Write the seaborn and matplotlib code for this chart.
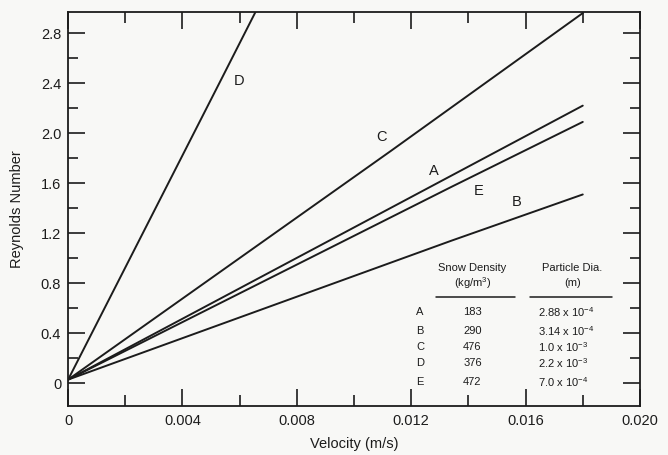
import numpy as np
import pandas as pd
import matplotlib
matplotlib.use("Agg")
import matplotlib.pyplot as plt
from matplotlib.ticker import MultipleLocator, FixedLocator
import seaborn as sns

# curve data (velocity m/s, Reynolds number)
vel_A = [0.0, 0.0134, 0.018]
re_A = [0.03, 1.66, 2.22]
vel_B = [0.0, 0.0134, 0.018]
re_B = [0.03, 1.14, 1.51]
vel_C = [0.0, 0.0113, 0.018]
re_C = [0.03, 1.86, 2.96]
vel_D = [0.0, 0.0054, 0.0068]
re_D = [0.03, 2.45, 3.08]
vel_E = [0.0, 0.0134, 0.018]
re_E = [0.03, 1.57, 2.09]

curve_names = ["A", "B", "C", "D", "E"]
label_x = [0.0128, 0.01567, 0.01096, 0.00597, 0.01435]
label_y = [1.70, 1.45, 1.97, 2.42, 1.54]

snow_density = ["183", "290", "476", "376", "472"]
particle_dia = ["2.88 x 10$^{-4}$", "3.14 x 10$^{-4}$", "1.0 x 10$^{-3}$",
                "2.2 x 10$^{-3}$", "7.0 x 10$^{-4}$"]

rows = []
for name, vv, rr in zip(curve_names, [vel_A, vel_B, vel_C, vel_D, vel_E],
                        [re_A, re_B, re_C, re_D, re_E]):
    for v, r in zip(vv, rr):
        rows.append({"curve": name, "velocity": v, "re": r})
df = pd.DataFrame(rows)

sns.set_theme(style="ticks")
plt.rcParams["font.family"] = ["Liberation Sans", "DejaVu Sans"]
plt.rcParams["mathtext.fontset"] = "custom"
plt.rcParams["mathtext.rm"] = "Liberation Sans"
plt.rcParams["mathtext.it"] = "Liberation Sans"
plt.rcParams["mathtext.bf"] = "Liberation Sans"

ink = "#1c1c1c"
bg = "#f8f8f6"

fig = plt.figure(figsize=(6.68, 4.55), dpi=100, facecolor=bg)
ax = fig.add_axes([0.102, 0.108, 0.856, 0.866], facecolor=bg)

sns.lineplot(data=df, x="velocity", y="re", hue="curve", units="curve",
             estimator=None, sort=False, palette=[ink] * 5, linewidth=1.4,
             legend=False, ax=ax)

ax.set_xlim(0, 0.020)
ax.set_ylim(-0.18, 2.97)

ax.xaxis.set_major_locator(FixedLocator([0, 0.004, 0.008, 0.012, 0.016, 0.020]))
ax.xaxis.set_minor_locator(MultipleLocator(0.002))
ax.yaxis.set_major_locator(FixedLocator([0, 0.4, 0.8, 1.2, 1.6, 2.0, 2.4, 2.8]))
ax.yaxis.set_minor_locator(MultipleLocator(0.2))
ax.set_xticklabels(["0", "0.004", "0.008", "0.012", "0.016", "0.020"])
ax.set_yticklabels(["0", "0.4", "0.8", "1.2", "1.6", "2.0", "2.4", "2.8"])

ax.tick_params(which="both", direction="in", top=True, right=True,
               color=ink, labelcolor=ink, labelsize=10.5, width=1.2)
ax.tick_params(axis="x", which="major", length=12, pad=6)
ax.tick_params(axis="x", which="minor", length=8)
ax.tick_params(axis="y", which="major", length=12, pad=5)
ax.tick_params(axis="y", which="minor", length=7)
for s in ax.spines.values():
    s.set_color(ink)
    s.set_linewidth(1.3)

ax.set_xlabel("Velocity (m/s)", fontsize=10.5, color=ink, labelpad=6)
ax.set_ylabel("Reynolds Number", fontsize=10.5, color=ink, labelpad=12)

for name, lx, ly in zip(curve_names, label_x, label_y):
    ax.text(lx, ly, name, fontsize=10.5, color=ink, ha="center", va="center")

# table in the lower right corner
tx_letter, tx_dens, tx_dia = 0.01231, 0.01414, 0.01643
ax.text(tx_dens, 0.92, "Snow Density", fontsize=8, ha="center", va="center", color=ink)
ax.text(tx_dens, 0.80, "(kg/m$^{3}$)", fontsize=8, ha="center", va="center", color=ink)
ax.text(0.01763, 0.92, "Particle Dia.", fontsize=8, ha="center", va="center", color=ink)
ax.text(0.01763, 0.80, "(m)", fontsize=8, ha="center", va="center", color=ink)
ax.plot([0.01288, 0.01564], [0.69, 0.69], color=ink, lw=1.1)
ax.plot([0.01616, 0.01902], [0.69, 0.69], color=ink, lw=1.1)
row_y = [0.57, 0.42, 0.29, 0.16, 0.01]
for name, dens, dia, ry in zip(curve_names, snow_density, particle_dia, row_y):
    ax.text(tx_letter, ry, name, fontsize=8, ha="center", va="center", color=ink)
    ax.text(tx_dens, ry, dens, fontsize=8, ha="center", va="center", color=ink)
    ax.text(tx_dia, ry, dia, fontsize=8, ha="left", va="center", color=ink)

fig.savefig("out.png", dpi=100, facecolor=bg)
